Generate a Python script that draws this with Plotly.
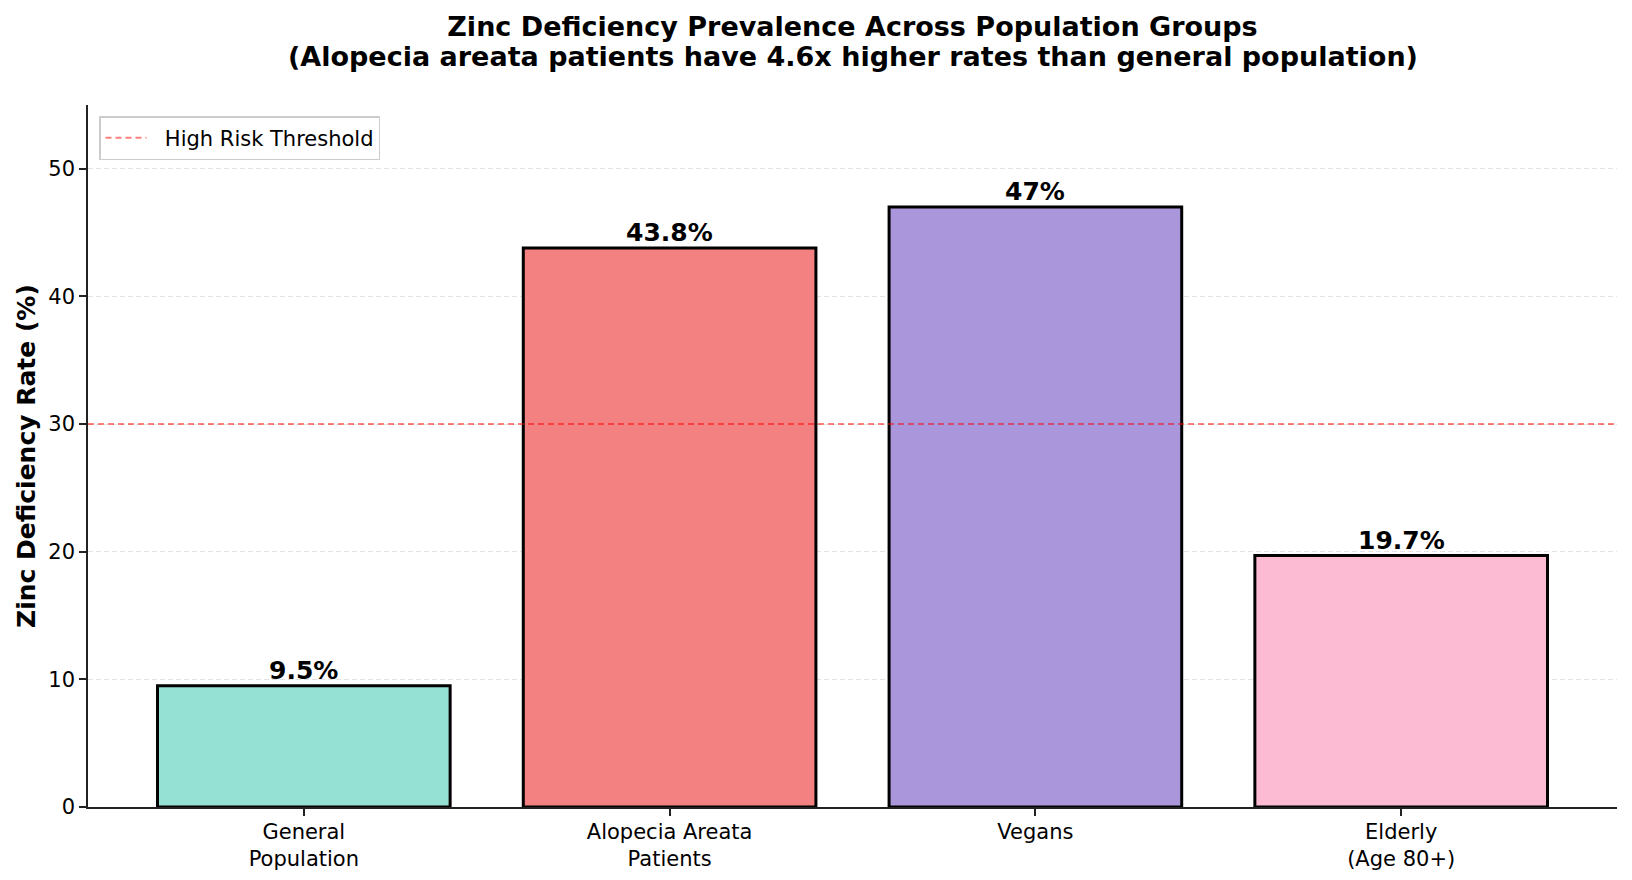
import plotly.graph_objects as go

categories = ["General<br>Population", "Alopecia Areata<br>Patients", "Vegans", "Elderly<br>(Age 80+)"]
values = [9.5, 43.8, 47.0, 19.7]
value_labels = ["9.5%", "43.8%", "47%", "19.7%"]
colors = ["#95E1D3", "#F38181", "#AA96DA", "#FCBAD3"]
threshold = 30
y_ticks = [0, 10, 20, 30, 40, 50]
title_line1 = "Zinc Deficiency Prevalence Across Population Groups"
title_line2 = "(Alopecia areata patients have 4.6x higher rates than general population)"

FONT = "DejaVu Sans"
W, H = 1632, 880
L, R, T, B = 88, 15, 105, 73
plot_w = W - L - R
plot_h = H - T - B

xpos = list(range(len(categories)))

fig = go.Figure()
fig.add_trace(go.Bar(
    x=xpos, y=values, width=0.8,
    marker=dict(color=colors, line=dict(color="black", width=3)),
    showlegend=False, hoverinfo="skip",
))
fig.add_trace(go.Scatter(
    x=[None], y=[None], mode="lines", name="\u00a0\u00a0High Risk Threshold",
    line=dict(color="rgba(255,0,0,0.5)", width=2, dash="6px,4px"),
))
fig.add_shape(type="line", xref="paper", x0=0, x1=1, yref="y", y0=threshold, y1=threshold,
              line=dict(color="rgba(255,0,0,0.5)", width=2, dash="6px,4px"), layer="above")

for x, v, t in zip(xpos, values, value_labels):
    fig.add_annotation(x=x, y=v, text="<b>%s</b>" % t, showarrow=False, yanchor="bottom",
                       xanchor="center", yshift=-1,
                       font=dict(family=FONT, size=25, color="black"))

fig.add_annotation(xref="paper", yref="paper", x=(26 - L) / plot_w, y=0.5,
                   text="<b>Zinc Deficiency Rate (%)</b>", textangle=-90, showarrow=False,
                   xanchor="center", yanchor="middle",
                   font=dict(family=FONT, size=25, color="black"))

# second title line
fig.add_annotation(xref="paper", yref="paper", x=0.5, y=(H - B - 56) / plot_h,
                   text="<b>%s</b>" % title_line2, showarrow=False,
                   xanchor="center", yanchor="middle",
                   font=dict(family=FONT, size=27, color="black"))

fig.update_layout(
    width=W, height=H,
    margin=dict(l=L, r=R, t=T, b=B, autoexpand=False),
    paper_bgcolor="white", plot_bgcolor="white",
    font=dict(family=FONT, size=21, color="black"),
    title=dict(
        text="<b>%s</b>" % title_line1,
        x=(L + plot_w / 2) / W, xanchor="center", xref="container",
        y=1 - 27 / H, yanchor="middle", yref="container",
        font=dict(family=FONT, size=27, color="black"),
    ),
    xaxis=dict(
        range=[-0.59, 3.59], tickvals=xpos, ticktext=categories,
        showline=True, linecolor="#222222", linewidth=1.6,
        ticks="outside", ticklen=7, tickwidth=1.6, tickcolor="#222222",
        showgrid=False, zeroline=False,
        tickfont=dict(family=FONT, size=21, color="black"),
        ticklabelstandoff=-2,
    ),
    yaxis=dict(
        range=[0, 55], tickvals=y_ticks,
        showline=True, linecolor="#222222", linewidth=1.6,
        ticks="outside", ticklen=7, tickwidth=1.6, tickcolor="#222222",
        showgrid=True, gridcolor="rgba(176,176,176,0.35)", gridwidth=1.3, griddash="5px,3px",
        zeroline=False, layer="above traces",
        tickfont=dict(family=FONT, size=21, color="black"),
    ),
    legend=dict(
        x=(99 - L) / plot_w, y=1 - (116 - T) / plot_h, xanchor="left", yanchor="top",
        bgcolor="white", bordercolor="#cccccc", borderwidth=1.5,
        font=dict(family=FONT, size=21, color="black"),
        itemwidth=41,
    ),
)

fig.write_html("out.html")
